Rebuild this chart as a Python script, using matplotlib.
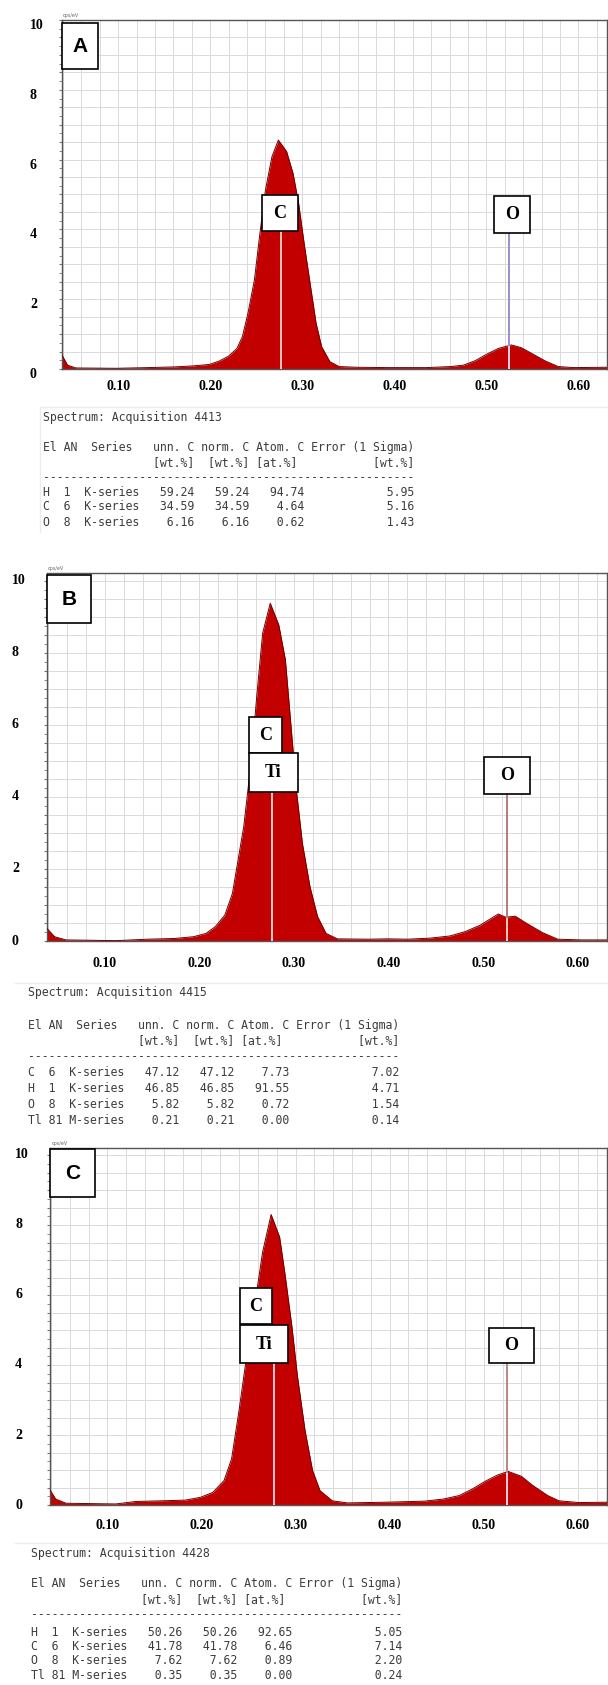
import matplotlib.pyplot as plt
import numpy as np
from matplotlib.patches import Rectangle
from matplotlib.ticker import MultipleLocator
from matplotlib.transforms import blended_transform_factory, ScaledTranslation

W, H = 608, 1685

# EDS spectra: energy (keV) and intensity (cps/eV)
energy_a = [0.039, 0.045, 0.054, 0.098, 0.132, 0.161, 0.182, 0.199, 0.210, 0.220,
            0.229, 0.235, 0.241, 0.248, 0.254, 0.260, 0.267, 0.274, 0.283, 0.290,
            0.296, 0.302, 0.309, 0.315, 0.321, 0.330, 0.340, 0.359, 0.393, 0.435,
            0.461, 0.475, 0.488, 0.500, 0.513, 0.527, 0.538, 0.551, 0.564, 0.578,
            0.595, 0.631]
counts_a = [0.40, 0.11, 0.03, 0.02, 0.04, 0.06, 0.09, 0.13, 0.23, 0.37,
            0.59, 0.93, 1.60, 2.55, 3.89, 5.13, 6.08, 6.56, 6.23, 5.60,
            4.75, 3.60, 2.36, 1.31, 0.64, 0.21, 0.07, 0.05, 0.04, 0.04,
            0.07, 0.11, 0.24, 0.42, 0.59, 0.69, 0.61, 0.42, 0.23, 0.07,
            0.04, 0.05]

energy_b = [0.039, 0.047, 0.059, 0.112, 0.145, 0.174, 0.194, 0.207, 0.217, 0.227,
            0.235, 0.241, 0.247, 0.251, 0.255, 0.261, 0.267, 0.275, 0.284, 0.291,
            0.297, 0.303, 0.309, 0.317, 0.325, 0.334, 0.346, 0.379, 0.399, 0.420,
            0.444, 0.465, 0.481, 0.497, 0.516, 0.524, 0.534, 0.546, 0.563, 0.579,
            0.604, 0.631]
counts_b = [0.35, 0.12, 0.03, 0.01, 0.05, 0.07, 0.12, 0.21, 0.40, 0.72,
            1.32, 2.25, 3.18, 4.10, 5.03, 6.88, 8.55, 9.38, 8.78, 7.81,
            5.95, 4.10, 2.71, 1.51, 0.68, 0.21, 0.06, 0.05, 0.06, 0.05,
            0.08, 0.14, 0.26, 0.44, 0.75, 0.66, 0.69, 0.49, 0.23, 0.05,
            0.03, 0.03]

energy_c = [0.039, 0.045, 0.056, 0.109, 0.130, 0.158, 0.183, 0.199, 0.212, 0.224,
            0.232, 0.240, 0.248, 0.257, 0.265, 0.274, 0.283, 0.289, 0.296, 0.302,
            0.310, 0.318, 0.326, 0.339, 0.355, 0.396, 0.437, 0.457, 0.474, 0.488,
            0.503, 0.515, 0.526, 0.540, 0.552, 0.568, 0.580, 0.601, 0.631]
counts_c = [0.43, 0.17, 0.05, 0.03, 0.10, 0.12, 0.14, 0.22, 0.36, 0.70,
            1.32, 2.72, 4.25, 5.79, 7.23, 8.30, 7.66, 6.55, 5.12, 3.68,
            2.14, 0.99, 0.41, 0.12, 0.06, 0.08, 0.11, 0.17, 0.27, 0.46,
            0.70, 0.86, 0.96, 0.82, 0.56, 0.27, 0.12, 0.07, 0.08]

# marker lines (keV)
line_c = 0.277
line_o = 0.525

x_ticks = [0.10, 0.20, 0.30, 0.40, 0.50, 0.60]
y_ticks = [0, 2, 4, 6, 8, 10]

spectrum_a = "Spectrum: Acquisition 4413"
spectrum_b = "Spectrum: Acquisition 4415"
spectrum_c = "Spectrum: Acquisition 4428"

rows_a = [("H", 1, "K-series", 59.24, 59.24, 94.74, 5.95),
          ("C", 6, "K-series", 34.59, 34.59, 4.64, 5.16),
          ("O", 8, "K-series", 6.16, 6.16, 0.62, 1.43)]
rows_b = [("C", 6, "K-series", 47.12, 47.12, 7.73, 7.02),
          ("H", 1, "K-series", 46.85, 46.85, 91.55, 4.71),
          ("O", 8, "K-series", 5.82, 5.82, 0.72, 1.54),
          ("Tl", 81, "M-series", 0.21, 0.21, 0.00, 0.14)]
rows_c = [("H", 1, "K-series", 50.26, 50.26, 92.65, 5.05),
          ("C", 6, "K-series", 41.78, 41.78, 6.46, 7.14),
          ("O", 8, "K-series", 7.62, 7.62, 0.89, 2.20),
          ("Tl", 81, "M-series", 0.35, 0.35, 0.00, 0.24)]

header1 = "El AN  Series   unn. C norm. C Atom. C Error (1 Sigma)"
header2 = " " * 16 + "[wt.%]  [wt.%] [at.%]" + " " * 11 + "[wt.%]"

SERIF = "Liberation Serif"
MONO = "DejaVu Sans Mono"
FILL = "#c30000"


def fig_rect(x0, y0, x1, y1):
    return [x0 / W, 1 - y1 / H, (x1 - x0) / W, (y1 - y0) / H]


def px_to_data_y(ax, y_px):
    return ax.transData.inverted().transform((0, H - y_px))[1]


def box(x0, y0, x1, y1, text, font, size):
    fig.add_artist(Rectangle((x0 / W, 1 - y1 / H), (x1 - x0) / W, (y1 - y0) / H,
                             transform=fig.transFigure, facecolor="white",
                             edgecolor="black", lw=1.2, zorder=10))
    fig.text((x0 + x1) / 2 / W, 1 - (y0 + y1) / 2 / H, text, ha="center",
             va="center", fontsize=size, fontweight="bold", family=font,
             zorder=11)


def panel(frame, energy, counts, ytop, letter_box, letter, tags, lines,
          ylab_x, ylab_shift, xlab_y, unit_xy):
    ax = fig.add_axes(fig_rect(*frame))
    ax.set_xlim(0.039, 0.631)
    ax.set_ylim(0, ytop)
    ax.xaxis.set_major_locator(MultipleLocator(0.02))
    ax.yaxis.set_major_locator(MultipleLocator(0.5))
    ax.yaxis.set_minor_locator(MultipleLocator(0.25))
    ax.grid(True, which="major", color="#dadada", lw=0.7)
    ax.set_axisbelow(True)
    ax.tick_params(axis="x", length=0, labelbottom=False)
    ax.tick_params(axis="y", which="both", length=2, color="#777",
                   labelleft=False)
    for s in ax.spines.values():
        s.set_color("#555")
        s.set_linewidth(1.0)

    ax.fill_between(energy, counts, 0, color=FILL, lw=0, zorder=2)
    ax.plot(energy, counts, color="#6e0000", lw=0.7, zorder=3)

    for e, top_px, c_out, c_in in lines:
        y_top = px_to_data_y(ax, top_px)
        y_curve = np.interp(e, energy, counts)
        ax.plot([e, e], [0, min(y_top, y_curve)], color=c_in, lw=1.4, zorder=4)
        if y_top > y_curve:
            ax.plot([e, e], [y_curve, y_top], color=c_out, lw=1.4, zorder=4)

    ty = blended_transform_factory(fig.transFigure, ax.transData) + \
        ScaledTranslation(0, -ylab_shift / 100, fig.dpi_scale_trans)
    for v in y_ticks:
        ax.text(ylab_x / W, v, str(v), transform=ty, ha="left", va="center",
                family=SERIF, fontweight="bold", fontsize=10)
    tx = blended_transform_factory(ax.transData, fig.transFigure)
    for v in x_ticks:
        ax.text(v, 1 - xlab_y / H, f"{v:.2f}", transform=tx, ha="center",
                va="center", family=SERIF, fontweight="bold", fontsize=10)

    fig.text(unit_xy[0] / W, 1 - unit_xy[1] / H, "cps/eV", fontsize=3.5,
             color="#666", va="center")
    box(*letter_box, letter, "Liberation Sans", 15)
    for t in tags:
        box(*t[1:], t[0], SERIF, 13)
    return ax


def table(x, ys, spectrum, rows):
    lines = [spectrum, header1, header2, "-" * 54]
    for el, an, ser, unn, norm, atom, err in rows:
        lines.append(f"{el:<3}{an:<3}{ser:<8}{unn:>8.2f}{norm:>8.2f}"
                     f"{atom:>8.2f}{err:>16.2f}")
    for txt, y in zip(lines, ys):
        fig.text(x / W, 1 - y / H, txt, family=MONO, fontsize=8.3,
                 color="#3c3c3c", va="center", ha="left")


fig = plt.figure(figsize=(W / 100, H / 100), dpi=100)

# faint screenshot borders
fig.add_artist(plt.Line2D([40 / W, 1], [1 - 407 / H] * 2, color="#ececec", lw=1))
fig.add_artist(plt.Line2D([40 / W] * 2, [1 - 407 / H, 1 - 532 / H], color="#ececec", lw=1))
fig.add_artist(plt.Line2D([15 / W, 1], [1 - 983 / H] * 2, color="#ececec", lw=1))
fig.add_artist(plt.Line2D([15 / W, 1], [1 - 1543 / H] * 2, color="#ececec", lw=1))

panel((62, 20, 607, 369), energy_a, counts_a, 10.0, (62, 23, 98, 69), "A",
      [("C", 262, 195, 298, 231), ("O", 494, 196, 530, 233)],
      [(line_c, 231, "#e2c1b6", "#e8c6ba"), (line_o, 233, "#9d8fcb", "#ddd4f0")],
      30, 5.5, 387, (63, 15))
table(43, [417, 447, 463, 478, 492, 507, 522], spectrum_a, rows_a)

panel((47, 573, 607, 941), energy_b, counts_b, 10.22, (47, 575, 91, 623), "B",
      [("C", 249, 717, 282, 753), ("Ti", 249, 753, 298, 792),
       ("O", 484, 757, 530, 794)],
      [(line_c, 792, "#b87a7a", "#f6cccc"), (line_o, 794, "#b47b7b", "#f2caca")],
      12, 0, 963, (48, 568))
table(28, [992, 1025, 1041, 1057, 1072, 1088, 1104, 1120], spectrum_b, rows_b)

panel((50, 1148, 607, 1505), energy_c, counts_c, 10.2, (50, 1149, 95, 1197), "C",
      [("C", 240, 1288, 272, 1324), ("Ti", 240, 1325, 288, 1363),
       ("O", 489, 1328, 534, 1363)],
      [(line_c, 1363, "#b88888", "#f4c8d2"), (line_o, 1363, "#b58686", "#f0d0d8")],
      15, 0, 1525, (52, 1143))
table(31, [1553, 1583, 1600, 1615, 1632, 1646, 1660, 1675], spectrum_c, rows_c)

fig.savefig("out.png", dpi=100)
